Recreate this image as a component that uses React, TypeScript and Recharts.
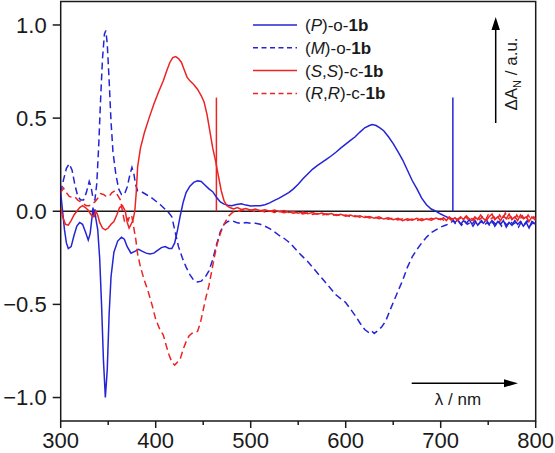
import { LineChart, Line, XAxis, YAxis, ReferenceLine, ReferenceArea } from "recharts";

const BLUE = "#2424d6";
const RED = "#ec2424";
const INK = "#1a1a1a";
const FONT = '"Liberation Sans", Arial, Helvetica, sans-serif';

// (P)-o-1b, solid blue
const pOpen: [number, number][] = [
  [300, 0.1], [302, 0.0], [304, -0.1], [306, -0.17], [308, -0.2], [311, -0.19], [314, -0.13],
  [317, -0.08], [320, -0.06], [323, -0.07], [326, -0.11], [329, -0.155], [331, -0.12], [333, -0.03],
  [334, 0.02], [335, -0.03], [336, 0.01], [337, -0.04], [339, -0.1], [341, -0.25], [343, -0.5],
  [345, -0.8], [347, -1.0], [349, -0.85], [351, -0.55], [353, -0.35], [356, -0.22], [360, -0.16],
  [364, -0.14], [367, -0.15], [370, -0.19], [374, -0.225], [378, -0.215], [382, -0.205], [386, -0.215],
  [390, -0.225], [394, -0.23], [398, -0.225], [402, -0.21], [406, -0.195], [410, -0.19], [414, -0.2],
  [417, -0.2], [420, -0.17], [423, -0.1], [426, -0.02], [429, 0.05], [432, 0.1], [436, 0.135],
  [440, 0.155], [444, 0.163], [448, 0.16], [452, 0.14], [456, 0.12], [460, 0.105], [464, 0.075],
  [468, 0.05], [472, 0.038], [476, 0.032], [480, 0.03], [485, 0.036], [490, 0.04], [495, 0.033],
  [500, 0.028], [505, 0.03], [510, 0.03], [515, 0.035], [520, 0.045], [525, 0.058], [530, 0.07],
  [535, 0.085], [540, 0.1], [545, 0.12], [550, 0.145], [555, 0.175], [560, 0.2], [565, 0.225],
  [570, 0.245], [575, 0.262], [580, 0.28], [585, 0.298], [590, 0.318], [595, 0.34], [600, 0.36],
  [605, 0.38], [610, 0.4], [615, 0.425], [620, 0.448], [625, 0.46], [628, 0.465], [632, 0.46],
  [636, 0.448], [640, 0.432], [645, 0.4], [650, 0.363], [655, 0.32], [660, 0.275], [665, 0.22],
  [670, 0.165], [675, 0.12], [680, 0.07], [685, 0.035], [690, 0.012], [695, 0.0], [700, -0.015],
  [704, -0.025], [708, -0.035], [712, -0.04], [715, -0.06], [718, -0.045], [721, -0.07], [724, -0.05],
  [727, -0.065], [730, -0.045], [733, -0.07], [736, -0.05], [739, -0.075], [742, -0.055], [745, -0.065],
  [748, -0.045], [751, -0.07], [754, -0.05], [757, -0.08], [760, -0.055], [763, -0.07], [766, -0.05],
  [769, -0.085], [772, -0.06], [775, -0.075], [778, -0.05], [781, -0.07], [784, -0.055], [787, -0.08],
  [790, -0.06], [793, -0.09], [796, -0.055], [800, -0.07],
];

// (M)-o-1b, dashed blue
const mOpen: [number, number][] = [
  [300, 0.1], [303, 0.17], [306, 0.23], [309, 0.255], [312, 0.22], [315, 0.14], [318, 0.08],
  [321, 0.06], [324, 0.06], [327, 0.1], [330, 0.16], [332, 0.13], [334, 0.07], [336, 0.06],
  [338, 0.15], [340, 0.35], [342, 0.6], [344, 0.82], [346, 0.95], [347.5, 0.97], [349, 0.9],
  [351, 0.7], [353, 0.48], [355, 0.32], [358, 0.2], [361, 0.12], [364, 0.09], [367, 0.09],
  [370, 0.13], [373, 0.2], [375, 0.235], [377, 0.2], [379, 0.14], [381, 0.11], [385, 0.105],
  [390, 0.09], [395, 0.075], [400, 0.055], [405, 0.035], [410, 0.01], [414, -0.01], [417, -0.03],
  [420, -0.1], [424, -0.19], [428, -0.25], [432, -0.3], [436, -0.34], [440, -0.37], [444, -0.38],
  [448, -0.375], [452, -0.355], [456, -0.32], [460, -0.26], [464, -0.18], [468, -0.11], [472, -0.07],
  [476, -0.055], [480, -0.05], [485, -0.06], [490, -0.066], [495, -0.06], [500, -0.065], [505, -0.065],
  [510, -0.07], [515, -0.08], [520, -0.093], [525, -0.11], [530, -0.13], [535, -0.145], [540, -0.165],
  [545, -0.19], [550, -0.22], [555, -0.245], [560, -0.27], [565, -0.3], [570, -0.33], [575, -0.36],
  [580, -0.39], [585, -0.42], [590, -0.45], [595, -0.47], [600, -0.49], [605, -0.525], [610, -0.56],
  [615, -0.6], [620, -0.635], [624, -0.65], [627, -0.64], [630, -0.656], [634, -0.64], [638, -0.62],
  [642, -0.59], [646, -0.54], [650, -0.49], [655, -0.43], [660, -0.37], [665, -0.3], [670, -0.245],
  [675, -0.205], [680, -0.17], [685, -0.14], [690, -0.115], [695, -0.1], [700, -0.085], [705, -0.075],
  [710, -0.065], [713, -0.05], [716, -0.07], [719, -0.055], [722, -0.075], [725, -0.05], [728, -0.07],
  [731, -0.06], [734, -0.08], [737, -0.055], [740, -0.07], [743, -0.05], [746, -0.075], [749, -0.06],
  [752, -0.08], [755, -0.055], [758, -0.07], [761, -0.05], [764, -0.08], [767, -0.06], [770, -0.075],
  [773, -0.05], [776, -0.07], [779, -0.06], [782, -0.085], [785, -0.055], [788, -0.07], [791, -0.05],
  [794, -0.08], [797, -0.06], [800, -0.075],
];

// (S,S)-c-1b, solid red
const ssClosed: [number, number][] = [
  [300, 0.02], [302, -0.03], [305, -0.07], [308, -0.075], [311, -0.05], [314, -0.02], [317, 0.0],
  [320, 0.02], [323, 0.03], [326, 0.02], [329, 0.005], [332, -0.02], [335, -0.03], [337, 0.0],
  [339, -0.02], [341, -0.06], [344, -0.09], [347, -0.1], [350, -0.09], [353, -0.07], [356, -0.055],
  [359, -0.02], [362, 0.02], [365, 0.03], [368, 0.0], [370, -0.06], [372, -0.09], [374, -0.07],
  [376, -0.05], [378, 0.0], [379.5, 0.1], [381, 0.24], [384, 0.34], [388, 0.42], [393, 0.5],
  [398, 0.575], [403, 0.64], [408, 0.7], [412, 0.76], [415, 0.8], [418, 0.825], [421, 0.83],
  [424, 0.82], [427, 0.8], [430, 0.76], [433, 0.72], [436, 0.7], [440, 0.68], [444, 0.655],
  [448, 0.62], [451, 0.585], [454, 0.52], [457, 0.43], [460, 0.34], [463, 0.27], [466, 0.19],
  [469, 0.11], [472, 0.055], [475, 0.03], [478, 0.02], [482, 0.012], [486, 0.02], [490, 0.01],
  [495, 0.015], [500, 0.005], [505, 0.012], [510, 0.003], [515, 0.008], [520, 0.0], [525, 0.006],
  [530, -0.002], [535, 0.004], [540, -0.006], [545, -0.001], [550, -0.01], [555, -0.004], [560, -0.013],
  [565, -0.007], [570, -0.016], [575, -0.01], [580, -0.018], [585, -0.012], [590, -0.022], [595, -0.016],
  [600, -0.026], [605, -0.02], [610, -0.03], [615, -0.024], [620, -0.034], [625, -0.028], [630, -0.037],
  [635, -0.03], [640, -0.042], [645, -0.035], [650, -0.045], [655, -0.038], [660, -0.05], [665, -0.04],
  [670, -0.048], [675, -0.038], [680, -0.05], [685, -0.04], [690, -0.048], [695, -0.036], [700, -0.045],
  [703, -0.035], [706, -0.05], [709, -0.03], [712, -0.045], [715, -0.035], [718, -0.05], [721, -0.03],
  [724, -0.045], [727, -0.025], [730, -0.04], [733, -0.05], [736, -0.03], [739, -0.045], [742, -0.02],
  [745, -0.04], [748, -0.05], [751, -0.03], [754, -0.015], [757, -0.045], [760, -0.03], [763, -0.05],
  [766, -0.025], [769, -0.04], [772, -0.015], [775, -0.045], [778, -0.03], [781, -0.05], [784, -0.02],
  [787, -0.04], [790, -0.03], [793, -0.055], [796, -0.03], [800, -0.05],
];

// (R,R)-c-1b, dashed red
const rrClosed: [number, number][] = [
  [300, 0.1], [303, 0.125], [306, 0.1], [309, 0.08], [312, 0.075], [315, 0.077], [318, 0.06],
  [321, 0.05], [324, 0.04], [327, 0.03], [330, 0.03], [333, 0.04], [336, 0.05], [339, 0.07],
  [342, 0.095], [345, 0.09], [348, 0.08], [351, 0.08], [354, 0.1], [357, 0.11], [360, 0.085],
  [363, 0.06], [365, 0.0], [367, -0.05], [369, -0.03], [371, -0.05], [373, -0.02], [375, -0.03],
  [377, -0.09], [379, -0.15], [381, -0.23], [384, -0.3], [388, -0.37], [392, -0.43], [396, -0.5],
  [400, -0.58], [404, -0.63], [408, -0.665], [411, -0.72], [414, -0.77], [417, -0.81], [420, -0.826],
  [423, -0.81], [426, -0.79], [429, -0.74], [432, -0.7], [435, -0.67], [438, -0.656], [441, -0.65],
  [444, -0.645], [447, -0.6], [450, -0.53], [453, -0.46], [456, -0.4], [459, -0.32], [462, -0.24],
  [465, -0.17], [468, -0.12], [471, -0.08], [474, -0.05], [477, -0.025], [480, -0.01], [484, 0.004],
  [488, 0.0], [492, 0.008], [496, 0.002], [500, 0.006], [505, -0.002], [510, 0.004], [515, -0.004],
  [520, 0.002], [525, -0.006], [530, 0.0], [535, -0.008], [540, -0.003], [545, -0.011], [550, -0.005],
  [555, -0.014], [560, -0.008], [565, -0.017], [570, -0.012], [575, -0.02], [580, -0.014], [585, -0.023],
  [590, -0.017], [595, -0.026], [600, -0.02], [605, -0.029], [610, -0.024], [615, -0.032], [620, -0.027],
  [625, -0.036], [630, -0.03], [635, -0.04], [640, -0.034], [645, -0.043], [650, -0.037], [655, -0.047],
  [660, -0.04], [665, -0.05], [670, -0.042], [675, -0.05], [680, -0.04], [685, -0.048], [690, -0.038],
  [695, -0.047], [700, -0.04], [704, -0.05], [708, -0.035], [711, -0.048], [714, -0.03], [717, -0.045],
  [720, -0.035], [723, -0.05], [726, -0.03], [729, -0.045], [732, -0.035], [735, -0.05], [738, -0.025],
  [741, -0.045], [744, -0.03], [747, -0.05], [750, -0.02], [753, -0.04], [756, -0.03], [759, -0.05],
  [762, -0.02], [765, -0.045], [768, -0.01], [771, -0.04], [774, -0.03], [777, -0.05], [780, -0.02],
  [783, -0.045], [786, -0.025], [789, -0.05], [792, -0.02], [795, -0.045], [798, -0.03], [800, -0.04],
];

// instrument spikes (grating change) drawn as vertical sticks from zero
const spikes = [
  { x: 463.9, top: 0.61, color: RED },
  { x: 712.8, top: 0.61, color: BLUE },
];

const xTicks = [300, 350, 400, 450, 500, 550, 600, 650, 700, 750, 800];
const yTicks = [-1, -0.5, 0, 0.5, 1];
const yMax = 1.126;

const series = [
  { name: "pOpen", data: pOpen, color: BLUE, dash: undefined },
  { name: "mOpen", data: mOpen, color: BLUE, dash: "7 4" },
  { name: "ssClosed", data: ssClosed, color: RED, dash: undefined },
  { name: "rrClosed", data: rrClosed, color: RED, dash: "7 4" },
];

const toPoints = (arr: [number, number][]) => arr.map(([x, y]) => ({ x, y }));

const XTick = ({ x, y, payload }: any) => {
  const major = payload.value % 100 === 0;
  return (
    <g>
      <line x1={x} x2={x} y1={y} y2={y + (major ? 7 : 4)} stroke={INK} strokeWidth={1.5} />
      {major && (
        <text x={x} y={y + 27} textAnchor="middle" fontSize={22} fill={INK} fontFamily={FONT}>
          {payload.value}
        </text>
      )}
    </g>
  );
};

const YTick = ({ x, y, payload }: any) => {
  const label = payload.value.toFixed(1).replace("-", "\u2212");
  return (
    <g>
      <line x1={x - 8} x2={x} y1={y} y2={y} stroke={INK} strokeWidth={1.5} />
      <text x={x - 14} y={y} dy="0.36em" textAnchor="end" fontSize={22} fill={INK} fontFamily={FONT}>
        {label}
      </text>
    </g>
  );
};

const legendRows = [
  { color: BLUE, dash: undefined, pre: "(", it: "P", post: ")-o-" },
  { color: BLUE, dash: "5 3.5", pre: "(", it: "M", post: ")-o-" },
  { color: RED, dash: undefined, pre: "(", it: "S", mid: ",", it2: "S", post: ")-c-" },
  { color: RED, dash: "5 3.5", pre: "(", it: "R", mid: ",", it2: "R", post: ")-c-" },
];

export default function App() {
  return (
    <div style={{ position: "absolute", left: 0, top: 0, width: 555, height: 453, background: "#fff" }}>
      <LineChart width={555} height={453} margin={{ top: 1.5, right: 19.3, bottom: 0, left: 0 }}>
        <XAxis
          dataKey="x"
          type="number"
          domain={[300, 800]}
          ticks={xTicks}
          interval={0}
          allowDataOverflow
          axisLine={false}
          tickLine={false}
          tickSize={0}
          tickMargin={0}
          height={32}
          tick={<XTick />}
        />
        <YAxis
          type="number"
          domain={[-yMax, yMax]}
          ticks={yTicks}
          interval={0}
          allowDataOverflow
          axisLine={false}
          tickLine={false}
          tickSize={0}
          tickMargin={0}
          width={60.7}
          tick={<YTick />}
        />
        <ReferenceArea x1={300} x2={800} y1={-yMax} y2={yMax} fill="none" stroke={INK} strokeWidth={1.5} />
        <ReferenceLine y={0} stroke={INK} strokeWidth={1.5} />
        {spikes.map((s) => (
          <ReferenceLine
            key={s.x}
            segment={[{ x: s.x, y: 0 }, { x: s.x, y: s.top }]}
            stroke={s.color}
            strokeWidth={1.5}
          />
        ))}
        {series.map((s) => (
          <Line
            key={s.name}
            data={toPoints(s.data)}
            dataKey="y"
            type="linear"
            stroke={s.color}
            strokeWidth={1.5}
            strokeDasharray={s.dash}
            dot={false}
            activeDot={false}
            isAnimationActive={false}
          />
        ))}
      </LineChart>
      <svg
        width={555}
        height={453}
        style={{ position: "absolute", left: 0, top: 0, pointerEvents: "none" }}
        fontFamily={FONT}
      >
        {legendRows.map((r, i) => {
          const cy = 25 + i * 22.8;
          return (
            <g key={i}>
              <line x1={253} x2={297} y1={cy} y2={cy} stroke={r.color} strokeWidth={1.5} strokeDasharray={r.dash} />
              <text x={305} y={cy + 6} fontSize={17} fill={INK}>
                {r.pre}
                <tspan fontStyle="italic">{r.it}</tspan>
                {r.mid}
                {r.it2 && <tspan fontStyle="italic">{r.it2}</tspan>}
                {r.post}
                <tspan fontWeight="bold">1b</tspan>
              </text>
            </g>
          );
        })}
        {/* y label with arrow */}
        <line x1={495.7} x2={495.7} y1={123} y2={28} stroke="#000" strokeWidth={1.5} />
        <polygon points="495.7,17 491.5,30 499.9,30" fill="#000" />
        <text transform="translate(517,74) rotate(-90)" textAnchor="middle" fontSize={17} fill={INK}>
          ΔA
          <tspan fontSize={11} dy={4}>N</tspan>
          <tspan dy={-4}> / a.u.</tspan>
        </text>
        {/* x label with arrow */}
        <line x1={411.7} x2={506} y1={383.3} y2={383.3} stroke="#000" strokeWidth={1.5} />
        <polygon points="518,383.3 504,379.3 504,387.3" fill="#000" />
        <text x={458} y={405} textAnchor="middle" fontSize={17} fill={INK}>
          λ / nm
        </text>
      </svg>
    </div>
  );
}
